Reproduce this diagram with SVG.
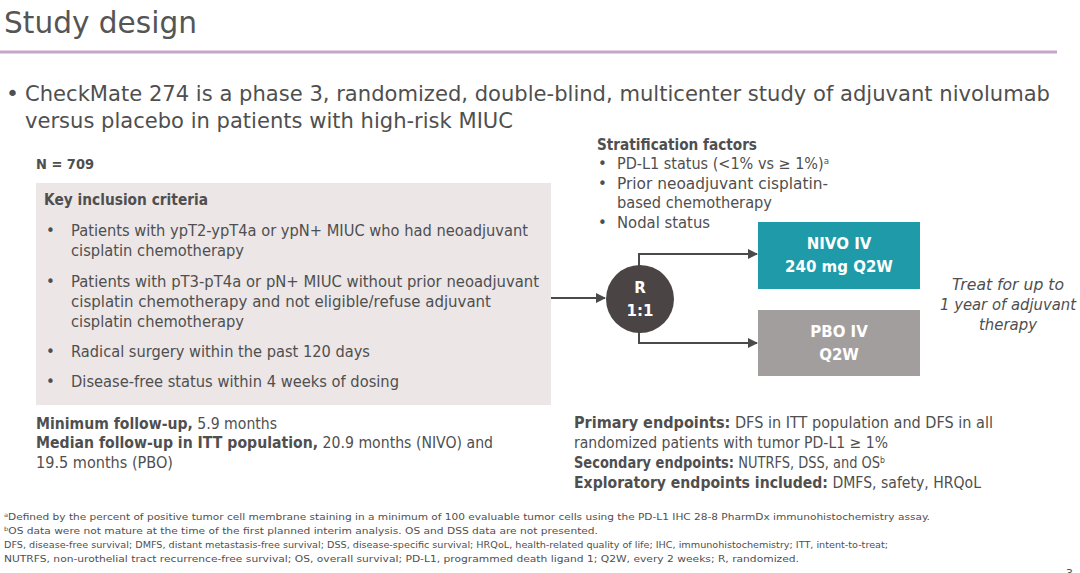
<svg xmlns="http://www.w3.org/2000/svg" width="1080" height="573" viewBox="0 0 1080 573">
<style>
text{font-family:"DejaVu Sans","Noto Sans",sans-serif;fill:#4f4f4f}
.b{font-weight:bold}
.t15{font-size:15px}
.fn{font-size:9.5px}
.w{fill:#ffffff;font-weight:bold;font-size:15px}
.it{font-size:15px;font-style:italic}
.conn{fill:none;stroke:#4a4a4a;stroke-width:2}
</style>
<defs>
<marker id="arr" markerWidth="10" markerHeight="10" refX="9" refY="5" orient="auto" markerUnits="userSpaceOnUse">
<path d="M0,0 L10,5 L0,10 Z" fill="#4a4a4a"/>
</marker>
</defs>
<rect width="1080" height="573" fill="#ffffff"/>

<g id="title">
<text x="4" y="33" font-size="31" textLength="193" lengthAdjust="spacingAndGlyphs" style="fill:#555">Study design</text>
<line x1="0" y1="52" x2="1057" y2="52" stroke="#c5a5c9" stroke-width="3"/>
</g>

<g id="intro">
<text x="6" y="101" font-size="22">•</text>
<text x="25" y="101" font-size="22" textLength="1025" lengthAdjust="spacingAndGlyphs">CheckMate 274 is a phase 3, randomized, double-blind, multicenter study of adjuvant nivolumab</text>
<text x="25" y="128" font-size="22" textLength="488" lengthAdjust="spacingAndGlyphs">versus placebo in patients with high-risk MIUC</text>
</g>

<g id="n">
<text x="36" y="169" class="b" font-size="14" textLength="58" lengthAdjust="spacingAndGlyphs">N = 709</text>
</g>

<g id="inclusion">
<rect x="36" y="183" width="515" height="222" fill="#ece6e7"/>
<text x="44" y="205" class="b t15" textLength="164" lengthAdjust="spacingAndGlyphs">Key inclusion criteria</text>
<text x="46" y="236" class="t15">•</text>
<text x="71" y="236" class="t15" textLength="457" lengthAdjust="spacingAndGlyphs">Patients with ypT2-ypT4a or ypN+ MIUC who had neoadjuvant</text>
<text x="71" y="256" class="t15" textLength="173" lengthAdjust="spacingAndGlyphs">cisplatin chemotherapy</text>
<text x="46" y="287" class="t15">•</text>
<text x="71" y="287" class="t15" textLength="468" lengthAdjust="spacingAndGlyphs">Patients with pT3-pT4a or pN+ MIUC without prior neoadjuvant</text>
<text x="71" y="307" class="t15" textLength="420" lengthAdjust="spacingAndGlyphs">cisplatin chemotherapy and not eligible/refuse adjuvant</text>
<text x="71" y="327" class="t15" textLength="173" lengthAdjust="spacingAndGlyphs">cisplatin chemotherapy</text>
<text x="46" y="357" class="t15">•</text>
<text x="71" y="357" class="t15" textLength="299" lengthAdjust="spacingAndGlyphs">Radical surgery within the past 120 days</text>
<text x="46" y="387" class="t15">•</text>
<text x="71" y="387" class="t15" textLength="328" lengthAdjust="spacingAndGlyphs">Disease-free status within 4 weeks of dosing</text>
</g>

<g id="stratification">
<text x="597" y="150" class="b t15" textLength="160" lengthAdjust="spacingAndGlyphs">Stratification factors</text>
<text x="598" y="169" class="t15">•</text>
<text x="617" y="169" class="t15" textLength="212" lengthAdjust="spacingAndGlyphs">PD-L1 status (&lt;1% vs ≥ 1%)<tspan font-size="9" baseline-shift="super">a</tspan></text>
<text x="598" y="189" class="t15">•</text>
<text x="617" y="189" class="t15" textLength="211" lengthAdjust="spacingAndGlyphs">Prior neoadjuvant cisplatin-</text>
<text x="617" y="208" class="t15" textLength="155" lengthAdjust="spacingAndGlyphs">based chemotherapy</text>
<text x="598" y="228" class="t15">•</text>
<text x="617" y="228" class="t15" textLength="93" lengthAdjust="spacingAndGlyphs">Nodal status</text>
</g>

<g id="connectors">
<line class="conn" x1="551" y1="298" x2="605" y2="298" marker-end="url(#arr)"/>
<polyline class="conn" points="639,266 639,254 757,254" marker-end="url(#arr)"/>
<polyline class="conn" points="639,332 639,343 757,343" marker-end="url(#arr)"/>
</g>

<g id="randomization">
<circle cx="640" cy="299" r="34" fill="#4a4544"/>
<text x="640" y="293" class="w" text-anchor="middle">R</text>
<text x="640" y="316" class="w" text-anchor="middle">1:1</text>
</g>

<g id="nivo">
<rect x="758" y="222" width="162" height="67" fill="#1e9aa9"/>
<text x="839" y="249" class="w" text-anchor="middle">NIVO IV</text>
<text x="839" y="272" class="w" text-anchor="middle">240 mg Q2W</text>
</g>

<g id="pbo">
<rect x="758" y="310" width="162" height="66" fill="#a39e9e"/>
<text x="839" y="337" class="w" text-anchor="middle">PBO IV</text>
<text x="839" y="360" class="w" text-anchor="middle">Q2W</text>
</g>

<g id="treat">
<text x="1008" y="290" class="it" text-anchor="middle" textLength="112" lengthAdjust="spacingAndGlyphs">Treat for up to</text>
<text x="1008" y="310" class="it" text-anchor="middle" textLength="136" lengthAdjust="spacingAndGlyphs">1 year of adjuvant</text>
<text x="1008" y="330" class="it" text-anchor="middle" textLength="58" lengthAdjust="spacingAndGlyphs">therapy</text>
</g>

<g id="followup">
<text x="36" y="429" class="t15" textLength="241" lengthAdjust="spacingAndGlyphs"><tspan class="b">Minimum follow-up,</tspan> 5.9 months</text>
<text x="36" y="448" class="t15" textLength="457" lengthAdjust="spacingAndGlyphs"><tspan class="b">Median follow-up in ITT population,</tspan> 20.9 months (NIVO) and</text>
<text x="36" y="468" class="t15" textLength="137" lengthAdjust="spacingAndGlyphs">19.5 months (PBO)</text>
</g>

<g id="endpoints">
<text x="574" y="428" class="t15" textLength="419" lengthAdjust="spacingAndGlyphs"><tspan class="b">Primary endpoints:</tspan> DFS in ITT population and DFS in all</text>
<text x="574" y="448" class="t15" textLength="314" lengthAdjust="spacingAndGlyphs">randomized patients with tumor PD-L1 ≥ 1%</text>
<text x="574" y="468" class="t15" textLength="311" lengthAdjust="spacingAndGlyphs"><tspan class="b">Secondary endpoints:</tspan> NUTRFS, DSS, and OS<tspan font-size="9" baseline-shift="super">b</tspan></text>
<text x="574" y="488" class="t15" textLength="407" lengthAdjust="spacingAndGlyphs"><tspan class="b">Exploratory endpoints included:</tspan> DMFS, safety, HRQoL</text>
</g>

<g id="footnotes">
<text x="4" y="520" class="fn" textLength="926" lengthAdjust="spacingAndGlyphs"><tspan font-size="6" baseline-shift="super">a</tspan>Defined by the percent of positive tumor cell membrane staining in a minimum of 100 evaluable tumor cells using the PD-L1 IHC 28-8 PharmDx immunohistochemistry assay.</text>
<text x="4" y="534" class="fn" textLength="594" lengthAdjust="spacingAndGlyphs"><tspan font-size="6" baseline-shift="super">b</tspan>OS data were not mature at the time of the first planned interim analysis. OS and DSS data are not presented.</text>
<text x="4" y="548" class="fn" textLength="884" lengthAdjust="spacingAndGlyphs">DFS, disease-free survival; DMFS, distant metastasis-free survival; DSS, disease-specific survival; HRQoL, health-related quality of life; IHC, immunohistochemistry; ITT, intent-to-treat;</text>
<text x="4" y="562" class="fn" textLength="795" lengthAdjust="spacingAndGlyphs">NUTRFS, non-urothelial tract recurrence-free survival; OS, overall survival; PD-L1, programmed death ligand 1; Q2W, every 2 weeks; R, randomized.</text>
<text x="1066" y="577" font-size="11">3</text>
</g>
</svg>
